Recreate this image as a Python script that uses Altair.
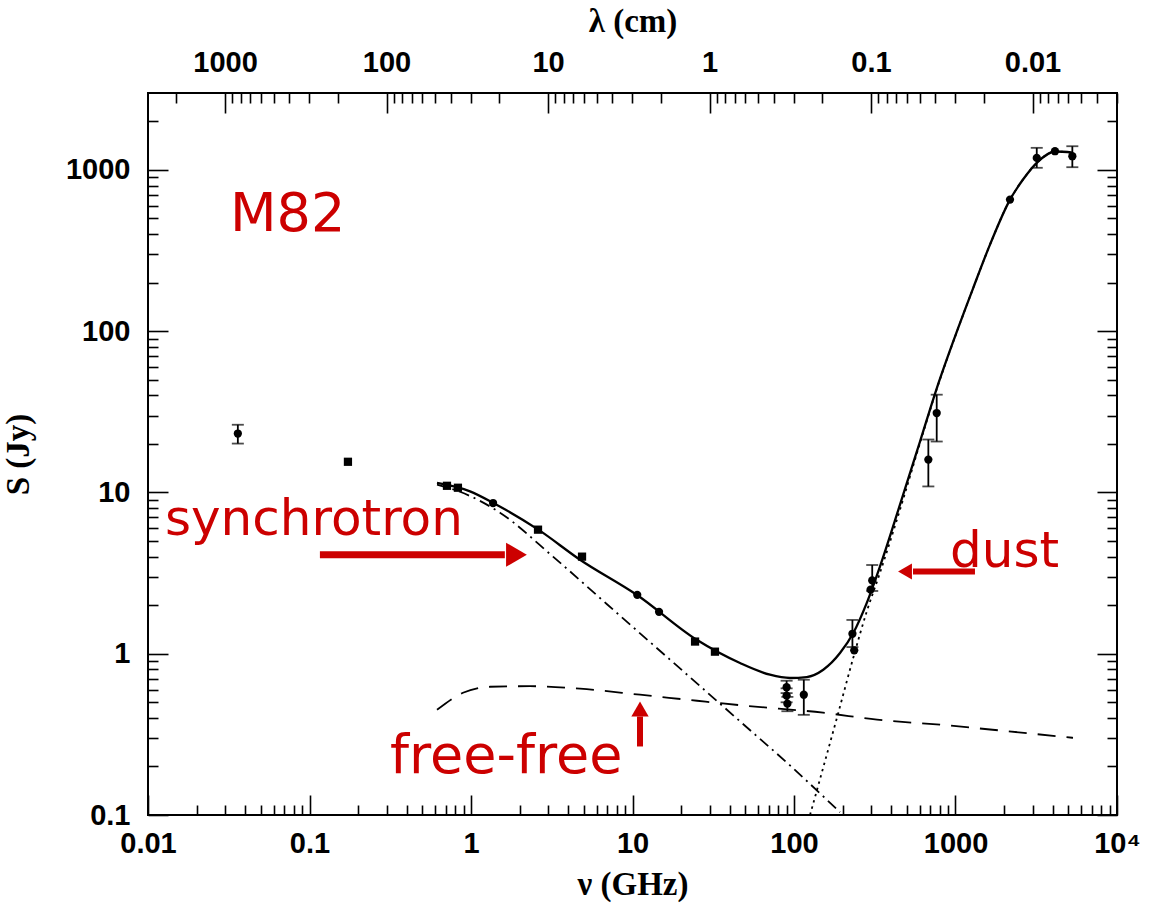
import altair as alt
import pandas as pd

# ---------------- axis ranges ----------------
NU_DOMAIN = [0.01, 10000]          # GHz
S_DOMAIN = [0.1, 3000]             # Jy
C_CM_GHZ = 29.98                   # lambda[cm] = C / nu[GHz]

NU_MAJOR = [0.01, 0.1, 1, 10, 100, 1000, 10000]
S_MAJOR = [0.1, 1, 10, 100, 1000]
LAM_MAJOR = [1000, 100, 10, 1, 0.1, 0.01]

# ---------------- model curves ----------------
total_nu = [0.616, 0.986, 1.374, 2.61, 4.73, 10.62, 24.98, 46.3, 71.0, 94.4, 119.8,
            151.8, 192.7, 232.8, 281.9, 340.8, 453.2, 603.0, 768.3, 992.9, 1283,
            1635, 2176, 2618, 3197, 4131, 5340]
total_S = [11.45, 10.16, 8.61, 5.88, 3.83, 2.32, 1.22, 0.876, 0.741, 0.707, 0.717,
           0.796, 1.01, 1.344, 2.06, 3.48, 8.40, 20.7, 44.7, 92.6, 183.8,
           344.5, 655, 872, 1111, 1301, 1282]

sync_nu = [0.616, 0.855, 1.512, 3.22, 6.95, 13.4, 21.8, 46.3, 94.4, 192.7]
sync_S = [11.18, 10.1, 7.49, 4.00, 2.028, 1.137, 0.741, 0.381, 0.203, 0.104]

ff_nu = [0.616, 0.892, 1.311, 2.319, 4.73, 11.13, 25.1, 51.2, 151.2, 326.6, 801.7, 2084, 5340]
ff_S = [0.449, 0.573, 0.624, 0.629, 0.607, 0.557, 0.511, 0.475, 0.431, 0.390, 0.363, 0.331, 0.301]

dust_nu = [125.7, 187.3, 231.9, 281.9, 340.8, 453.2, 603.0, 768.3, 992.9, 1283, 1635,
           2176, 2618, 3197, 4131, 5340]
dust_S = [0.1, 0.424, 0.931, 1.822, 3.18, 7.82, 20.3, 44.3, 92.2, 183.4, 344.1,
          654.6, 871.6, 1110.6, 1300.6, 1281.6]

# ---------------- measurements ----------------
pt_nu = [0.036, 0.173, 0.71, 0.83, 1.37, 2.6, 4.87, 10.7, 14.6, 24.4, 32.4,
         90, 90, 91, 115, 230, 236, 298, 305, 679, 765, 2175, 3185, 4130, 5290]
pt_S = [23.2, 15.5, 11.0, 10.7, 8.6, 5.88, 4.0, 2.32, 1.82, 1.19, 1.03,
        0.62, 0.55, 0.49, 0.557, 1.33, 1.05, 2.5, 2.85, 16.0, 31.1, 655, 1188, 1306, 1216]
pt_shape = ["circle", "square", "square", "square", "circle", "square", "square",
            "circle", "circle", "square", "square",
            "circle", "circle", "circle", "circle", "circle", "circle", "circle", "circle",
            "circle", "circle", "circle", "circle", "circle", "circle"]

eb_nu = [0.036, 90, 90, 91, 115, 230, 305, 679, 765, 3185, 5290]
eb_lo = [20.1, 0.57, 0.50, 0.44, 0.418, 1.10, 2.45, 10.9, 20.7, 1031, 1040]
eb_hi = [26.3, 0.68, 0.61, 0.54, 0.69, 1.62, 3.55, 21.3, 40.4, 1371, 1403]

# ---------------- annotations ----------------
RED = "#cc0000"
ann_text = ["M82", "synchrotron", "free-free", "dust"]
ann_nu = [0.0322, 0.01274, 0.315, 925]
ann_S = [416.6, 5.47, 0.1827, 3.47]
ann_size = [54, 50, 54, 50]

# arrow shafts: horizontal ones (nu_a -> nu_b at S) and the vertical one
harrow_nu_a = [0.116, 545.6]
harrow_nu_b = [1.62, 1320]
harrow_S = [4.11, 3.24]
harrow_w = [7, 6]
varrow_nu = [11.13]
varrow_S_a = [0.266]
varrow_S_b = [0.408]
# arrow heads
head_nu = [1.912, 486.8, 11.13]
head_S = [4.11, 3.24, 0.4545]
head_shape = ["triangle-right", "triangle-left", "triangle-up"]
head_size = [576, 256, 300]

# ---------------- tables ----------------
def curve(nu, s):
    return pd.DataFrame({"nu": nu, "S": s})

total_df = curve(total_nu, total_S)
sync_df = curve(sync_nu, sync_S)
ff_df = curve(ff_nu, ff_S)
dust_df = curve(dust_nu, dust_S)
pts_df = pd.DataFrame({"nu": pt_nu, "S": pt_S, "shape": pt_shape})
eb_df = pd.DataFrame({"nu": eb_nu, "lo": eb_lo, "hi": eb_hi})
caps_df = pd.DataFrame({"nu": eb_nu + eb_nu, "S": eb_lo + eb_hi})
ann_df = pd.DataFrame({"text": ann_text, "nu": ann_nu, "S": ann_S, "size": ann_size})
harrow_df = pd.DataFrame({"a": harrow_nu_a, "b": harrow_nu_b, "S": harrow_S, "w": harrow_w})
varrow_df = pd.DataFrame({"nu": varrow_nu, "a": varrow_S_a, "b": varrow_S_b})
head_df = pd.DataFrame({"nu": head_nu, "S": head_S, "shape": head_shape, "size": head_size})

xs = alt.Scale(type="log", domain=NU_DOMAIN, nice=False)
ys = alt.Scale(type="log", domain=S_DOMAIN, nice=False)

X = lambda f="nu": alt.X(f"{f}:Q", scale=xs, axis=None)
Y = lambda f="S": alt.Y(f"{f}:Q", scale=ys, axis=None)

line_kw = dict(color="black", interpolate="monotone", clip=True)
total_line = alt.Chart(total_df).mark_line(strokeWidth=2.3, **line_kw).encode(x=X(), y=Y())
sync_line = alt.Chart(sync_df).mark_line(strokeWidth=1.8, strokeDash=[11, 5, 2, 5], **line_kw).encode(x=X(), y=Y())
ff_line = alt.Chart(ff_df).mark_line(strokeWidth=1.8, strokeDash=[18, 11], **line_kw).encode(x=X(), y=Y())
dust_line = alt.Chart(dust_df).mark_line(strokeWidth=1.8, strokeDash=[2.5, 4], **line_kw).encode(x=X(), y=Y())

bars = alt.Chart(eb_df).mark_rule(color="black", strokeWidth=1.8).encode(
    x=X(), y=Y("lo"), y2="hi:Q")
caps = alt.Chart(caps_df).mark_tick(orient="horizontal", color="black", thickness=1.8, size=12).encode(
    x=X(), y=Y())
points = alt.Chart(pts_df).mark_point(filled=True, color="black", opacity=1, size=68).encode(
    x=X(), y=Y(), shape=alt.Shape("shape:N", scale=None))

harrows = alt.Chart(harrow_df).mark_rule(color=RED).encode(
    x=X("a"), x2="b:Q", y=Y(), strokeWidth=alt.StrokeWidth("w:Q", scale=None))
varrows = alt.Chart(varrow_df).mark_rule(color=RED, strokeWidth=6).encode(
    x=X(), y=Y("a"), y2="b:Q")
heads = alt.Chart(head_df).mark_point(filled=True, color=RED, opacity=1).encode(
    x=X(), y=Y(), shape=alt.Shape("shape:N", scale=None), size=alt.Size("size:Q", scale=None))
labels = alt.Chart(ann_df).mark_text(
    color=RED, font="DejaVu Sans", align="left", baseline="alphabetic").encode(
    x=X(), y=Y(), text="text:N", size=alt.Size("size:Q", scale=None))

# ---------------- frame axes (inward ticks) ----------------
LABEL_FONT = "Liberation Sans"
TITLE_FONT = "Liberation Serif"
axis_style = dict(domain=False, grid=False, tickColor="black", tickWidth=1.6,
                  labelColor="black", labelFont=LABEL_FONT, labelFontSize=29,
                  labelFontWeight="bold", labelFlush=False, labelOverlap=False,
                  titleColor="black", titleFont=TITLE_FONT, titleFontSize=33,
                  titleFontWeight="bold")
MAJOR, MINOR = 20, 10


def minor_ticks(lo_exp, hi_exp, limit):
    vals = []
    for e in range(lo_exp, hi_exp + 1):
        for m in range(2, 10):
            v = round(m * 10.0 ** e, 6)
            if limit[0] < v < limit[1]:
                vals.append(v)
    return vals


nu_minor = minor_ticks(-2, 3, NU_DOMAIN)
s_minor = minor_ticks(-1, 3, S_DOMAIN)
lam_domain = [C_CM_GHZ / NU_DOMAIN[1], C_CM_GHZ / NU_DOMAIN[0]]
lam_minor = minor_ticks(-3, 3, lam_domain)

nu_major_axis = alt.Axis(orient="bottom", values=NU_MAJOR, tickSize=MAJOR, offset=-MAJOR,
                         format="~g", labelExpr="datum.value >= 9999 ? '10⁴' : datum.label",
                         labelPadding=14, title="ν (GHz)", titlePadding=10, **axis_style)
nu_minor_axis = alt.Axis(orient="bottom", values=nu_minor, tickSize=MINOR, offset=-MINOR,
                         labels=False, title=None, **axis_style)
s_major_axis = alt.Axis(orient="left", values=S_MAJOR, tickSize=MAJOR, offset=-MAJOR,
                        format="~g", labelPadding=18, title="S (Jy)", titlePadding=30, **axis_style)
s_minor_axis = alt.Axis(orient="left", values=s_minor, tickSize=MINOR, offset=-MINOR,
                        labels=False, title=None, **axis_style)
s_major_right = alt.Axis(orient="right", values=S_MAJOR, tickSize=MAJOR, offset=-MAJOR,
                         labels=False, title=None, **axis_style)
s_minor_right = alt.Axis(orient="right", values=s_minor, tickSize=MINOR, offset=-MINOR,
                         labels=False, title=None, **axis_style)

corner_df = pd.DataFrame({"nu": NU_DOMAIN, "S": S_DOMAIN})


def carrier(xaxis, yaxis):
    return alt.Chart(corner_df).mark_point(opacity=0).encode(
        x=alt.X("nu:Q", scale=xs, axis=xaxis),
        y=alt.Y("S:Q", scale=ys, axis=yaxis))


frame = [carrier(nu_major_axis, s_major_axis),
         carrier(nu_minor_axis, s_minor_axis),
         carrier(None, s_major_right),
         carrier(None, s_minor_right)]

main = alt.layer(ff_line, sync_line, dust_line, total_line, bars, caps, points,
                 harrows, varrows, heads, labels, *frame).resolve_axis(x="independent", y="independent")

# wavelength axis on top
lam_df = pd.DataFrame({"lam": lam_domain})
lam_scale = alt.Scale(type="log", domain=lam_domain, reverse=True, nice=False)
lam_major_axis = alt.Axis(orient="top", values=LAM_MAJOR, tickSize=MAJOR, offset=-MAJOR,
                          format="~g", labelPadding=16, title="λ (cm)", titlePadding=10, **axis_style)
lam_minor_axis = alt.Axis(orient="top", values=lam_minor, tickSize=MINOR, offset=-MINOR,
                          labels=False, title=None, **axis_style)
top = alt.layer(
    alt.Chart(lam_df).mark_point(opacity=0).encode(x=alt.X("lam:Q", scale=lam_scale, axis=lam_major_axis)),
    alt.Chart(lam_df).mark_point(opacity=0).encode(x=alt.X("lam:Q", scale=lam_scale, axis=lam_minor_axis)),
).resolve_axis(x="independent")

chart = alt.layer(main, top).resolve_scale(x="independent").properties(
    width=969, height=722,
    autosize=alt.AutoSizeParams(type="none"),
    padding={"left": 148, "top": 93, "right": 34, "bottom": 92},
    background="white",
).configure_view(stroke="black", strokeWidth=2)

chart.save("out.html", embed_options={"renderer": "svg", "actions": False})
